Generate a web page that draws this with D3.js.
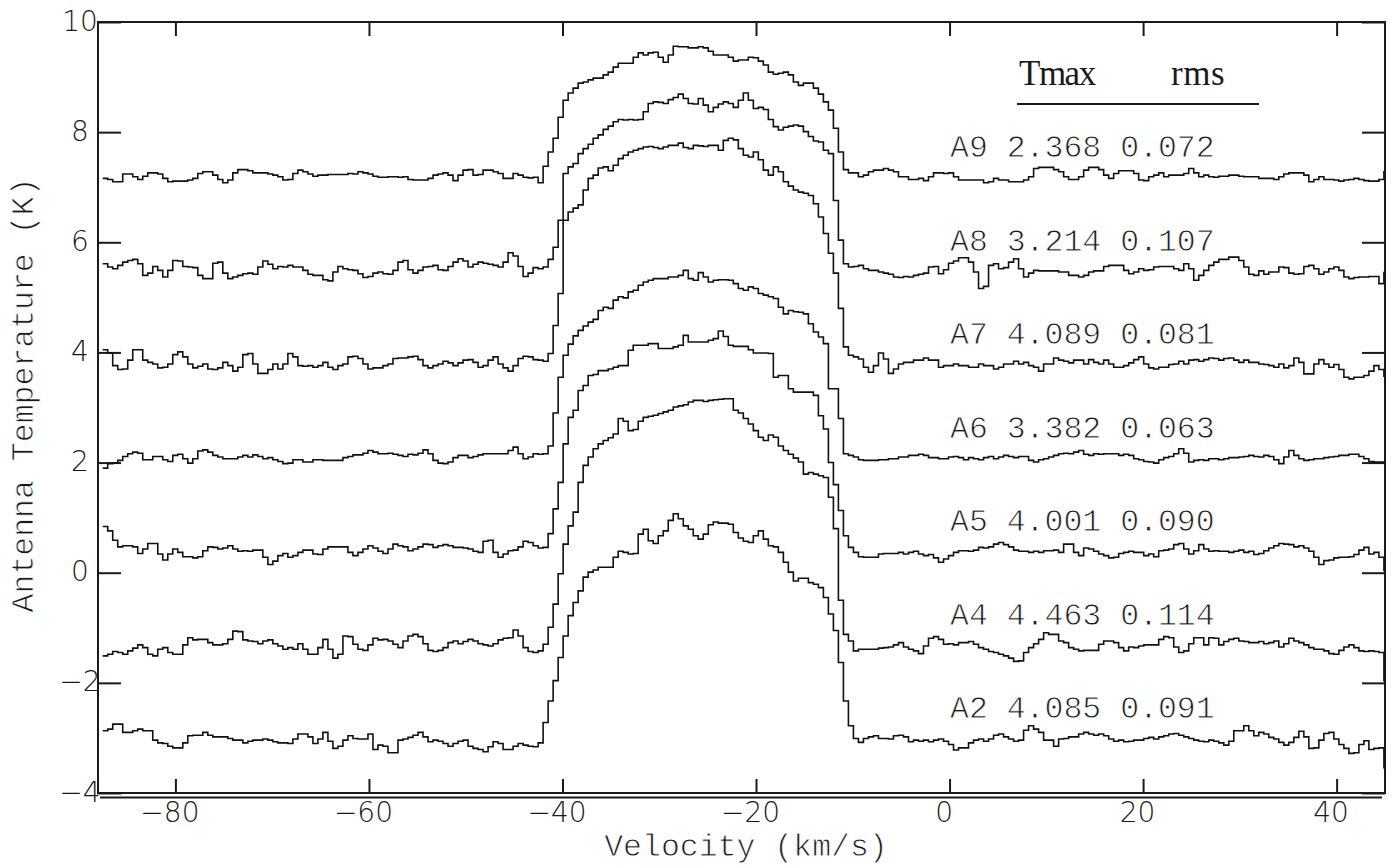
<!DOCTYPE html>
<html><head><meta charset="utf-8">
<script src="https://cdn.jsdelivr.net/npm/d3@7"></script>
<style>
html,body{margin:0;padding:0;background:#fff;}
svg{display:block;}
</style></head>
<body>
<svg id="chart" width="1396" height="867"></svg>
<script>
// ---------------- DATA ----------------
const categories = ["A9","A8","A7","A6","A5","A4","A2"];
const tmaxLabels = ["2.368","3.214","4.089","3.382","4.001","4.463","4.085"];
const rmsLabels  = ["0.072","0.107","0.081","0.063","0.090","0.114","0.091"];
const xTicks = [-80,-60,-40,-20,0,20,40];
const yTicks = [-4,-2,0,2,4,6,8,10];
// channel grid: left edge of first channel and channel width (km/s)
const V0 = -87.514, DV = 0.5172;

// antenna temperature per channel, as plotted (each spectrum shifted vertically)
const A9 = [
7.16,7.14,7.10,7.10,7.24,7.24,7.19,7.14,7.20,7.26,
7.26,7.24,7.16,7.10,7.11,7.11,7.11,7.13,7.16,7.25,
7.28,7.28,7.22,7.14,7.08,7.13,7.26,7.32,7.32,7.30,
7.26,7.26,7.26,7.24,7.22,7.19,7.13,7.14,7.25,7.31,
7.28,7.24,7.20,7.22,7.22,7.23,7.23,7.23,7.23,7.25,
7.24,7.28,7.26,7.24,7.20,7.18,7.18,7.19,7.19,7.18,
7.19,7.14,7.13,7.13,7.13,7.16,7.22,7.24,7.26,7.22,
7.12,7.22,7.31,7.32,7.22,7.23,7.31,7.31,7.28,7.25,
7.16,7.16,7.25,7.22,7.18,7.17,7.18,7.08,
7.38,7.64,7.89,8.27,8.58,8.71,8.80,8.89,8.91,8.95,
8.98,8.98,9.04,9.09,9.18,9.25,9.25,9.25,9.36,9.44,
9.40,9.44,9.45,9.36,9.27,9.40,9.56,9.55,9.55,9.53,
9.53,9.55,9.53,9.47,9.40,9.40,9.40,9.36,9.29,9.31,
9.31,9.36,9.35,9.29,9.22,9.09,9.05,9.07,9.09,9.04,
8.91,8.85,8.89,8.89,8.80,8.69,8.55,8.40,8.07,7.64,
7.32,7.26,7.26,7.19,7.22,7.28,7.31,7.31,7.34,7.31,
7.28,7.19,7.19,7.14,7.14,7.16,7.12,7.19,7.26,7.26,
7.25,7.26,7.19,7.13,7.13,7.13,7.13,7.13,7.08,7.10,
7.16,7.13,7.13,7.10,7.10,7.10,7.13,7.19,7.34,7.36,
7.36,7.36,7.32,7.28,7.19,7.14,7.14,7.19,7.31,7.36,
7.36,7.32,7.22,7.16,7.25,7.30,7.30,7.30,7.25,7.13,
7.12,7.19,7.22,7.26,7.19,7.22,7.22,7.22,7.25,7.34,
7.26,7.19,7.22,7.19,7.18,7.20,7.20,7.22,7.22,7.20,
7.19,7.19,7.19,7.16,7.16,7.16,7.14,7.19,7.24,7.26,
7.26,7.26,7.22,7.10,7.14,7.19,7.14,7.14,7.13,7.11,
7.13,7.14,7.16,7.14,7.12,7.11,7.11,7.14,
7.28];

const A8 = [
5.61,5.55,5.52,5.58,5.64,5.67,5.69,5.61,5.40,5.44,
5.56,5.49,5.37,5.49,5.67,5.66,5.56,5.55,5.54,5.40,
5.34,5.34,5.62,5.64,5.44,5.34,5.37,5.40,5.43,5.44,
5.42,5.55,5.66,5.60,5.52,5.56,5.55,5.58,5.55,5.55,
5.49,5.42,5.40,5.40,5.32,5.30,5.46,5.56,5.52,5.50,
5.49,5.43,5.36,5.38,5.44,5.46,5.43,5.42,5.49,5.64,
5.67,5.50,5.44,5.49,5.55,5.56,5.58,5.50,5.49,5.56,
5.64,5.70,5.66,5.55,5.60,5.64,5.62,5.60,5.58,5.55,
5.64,5.81,5.75,5.56,5.38,5.44,5.54,5.52,
5.55,5.69,5.91,6.40,7.25,7.37,7.43,7.61,7.70,7.78,
7.89,7.95,8.05,8.11,8.19,8.23,8.22,8.23,8.22,8.23,
8.37,8.52,8.55,8.54,8.52,8.59,8.63,8.69,8.61,8.52,
8.51,8.61,8.49,8.37,8.45,8.51,8.55,8.52,8.45,8.58,
8.71,8.58,8.43,8.45,8.41,8.23,8.10,8.04,8.09,8.11,
8.13,8.11,8.01,7.92,7.84,7.82,7.67,7.61,6.76,6.04,
5.61,5.55,5.56,5.58,5.52,5.49,5.49,5.46,5.44,5.42,
5.37,5.36,5.38,5.37,5.40,5.42,5.44,5.55,5.56,5.43,
5.50,5.62,5.66,5.72,5.72,5.64,5.46,5.16,5.20,5.58,
5.61,5.52,5.54,5.64,5.70,5.52,5.37,5.44,5.49,5.48,
5.48,5.48,5.48,5.46,5.46,5.40,5.40,5.37,5.40,5.46,
5.48,5.48,5.56,5.58,5.58,5.58,5.49,5.43,5.46,5.52,
5.49,5.50,5.55,5.56,5.56,5.56,5.52,5.49,5.61,5.52,
5.31,5.40,5.49,5.58,5.64,5.69,5.69,5.73,5.73,5.67,
5.55,5.42,5.40,5.48,5.42,5.46,5.46,5.55,5.54,5.44,
5.42,5.43,5.56,5.58,5.52,5.42,5.46,5.52,5.55,5.49,
5.37,5.34,5.36,5.37,5.37,5.38,5.38,5.25,
5.45];

const A7 = [
4.05,3.99,3.76,3.69,3.70,3.86,4.05,4.05,3.86,3.82,
3.79,3.72,3.73,3.79,3.96,4.01,3.92,3.79,3.72,3.75,
3.79,3.70,3.69,3.72,3.82,3.76,3.66,3.73,3.96,3.98,
3.79,3.62,3.62,3.69,3.79,3.70,3.79,3.98,3.92,3.76,
3.75,3.76,3.73,3.76,3.82,3.73,3.69,3.76,3.79,3.92,
3.93,3.89,3.79,3.70,3.72,3.72,3.76,3.79,3.89,3.90,
3.90,3.92,3.93,3.87,3.76,3.72,3.76,3.79,3.84,3.81,
3.76,3.81,3.86,3.87,3.82,3.73,3.76,3.86,3.92,3.79,
3.72,3.66,3.76,3.89,3.93,3.92,3.87,3.86,
3.84,3.98,4.49,5.07,6.40,6.55,6.62,6.68,6.95,7.16,
7.22,7.35,7.37,7.30,7.40,7.52,7.58,7.64,7.67,7.70,
7.73,7.74,7.72,7.70,7.73,7.76,7.76,7.80,7.72,7.70,
7.76,7.75,7.74,7.76,7.76,7.67,7.85,7.89,7.86,7.70,
7.58,7.55,7.64,7.50,7.31,7.22,7.37,7.28,7.10,7.02,
6.95,6.91,6.89,6.85,6.70,6.46,6.16,5.80,5.44,4.80,
4.10,3.95,3.92,3.88,3.73,3.64,3.76,3.99,3.88,3.62,
3.70,3.79,3.82,3.82,3.86,3.86,3.90,3.86,3.86,3.73,
3.76,3.76,3.79,3.76,3.76,3.73,3.73,3.79,3.76,3.76,
3.70,3.73,3.79,3.79,3.84,3.79,3.82,3.76,3.73,3.66,
3.79,3.79,3.90,3.86,3.84,3.81,3.86,3.86,3.79,3.87,
3.82,3.79,3.86,3.79,3.73,3.73,3.76,3.81,3.87,3.92,
3.79,3.72,3.70,3.73,3.73,3.78,3.79,3.84,3.79,3.86,
3.87,3.84,3.87,3.90,3.89,3.86,3.89,3.90,3.86,3.82,
3.86,3.82,3.82,3.79,3.78,3.76,3.73,3.79,3.72,3.76,
3.90,3.82,3.61,3.61,3.79,3.87,3.79,3.73,3.78,3.69,
3.55,3.52,3.55,3.55,3.58,3.66,3.76,3.69,
3.57];

const A6 = [
1.90,1.98,1.99,2.04,2.11,2.16,2.19,2.17,2.05,2.05,
2.11,2.11,2.05,2.02,2.13,2.15,2.07,1.99,2.07,2.21,
2.23,2.19,2.13,2.10,2.07,2.07,2.07,2.10,2.13,2.10,
2.14,2.11,2.07,2.09,2.05,2.02,1.98,1.99,2.05,2.05,
2.01,2.01,2.05,2.05,2.04,2.04,2.04,2.04,2.09,2.11,
2.14,2.14,2.17,2.22,2.19,2.16,2.16,2.17,2.15,2.13,
2.11,2.15,2.14,2.17,2.23,2.16,2.04,1.99,1.98,2.01,
2.09,2.13,2.13,2.09,2.11,2.14,2.16,2.16,2.16,2.16,
2.16,2.22,2.28,2.16,2.07,2.10,2.16,2.15,
2.16,2.30,2.90,3.55,3.95,4.15,4.30,4.40,4.48,4.55,
4.60,4.76,4.82,4.80,4.95,5.01,4.99,5.10,5.13,5.22,
5.28,5.31,5.34,5.34,5.34,5.37,5.37,5.40,5.49,5.34,
5.31,5.45,5.37,5.28,5.31,5.32,5.32,5.31,5.25,5.16,
5.13,5.19,5.16,5.07,5.04,5.01,4.98,4.82,4.70,4.76,
4.74,4.73,4.70,4.52,4.37,4.28,4.16,3.34,3.34,2.80,
2.16,2.13,2.10,2.05,2.04,2.04,2.04,2.05,2.05,2.07,
2.07,2.10,2.10,2.13,2.13,2.15,2.13,2.09,2.09,2.07,
2.07,2.10,2.11,2.09,2.05,2.09,2.07,2.05,2.09,2.11,
2.07,2.10,2.13,2.11,2.09,2.11,2.11,2.04,2.01,2.05,
2.07,2.10,2.13,2.16,2.17,2.16,2.19,2.22,2.15,2.13,
2.16,2.15,2.16,2.16,2.16,2.13,2.15,2.13,2.07,2.05,
2.02,2.01,1.99,2.05,2.09,2.11,2.16,2.25,2.17,2.01,
2.04,2.05,2.04,2.07,2.07,2.05,2.07,2.09,2.09,2.10,
2.11,2.13,2.11,2.10,2.13,2.11,2.05,1.98,2.10,2.22,
2.13,2.07,2.04,2.05,2.07,2.07,2.09,2.10,2.11,2.13,
2.13,2.15,2.15,2.11,2.07,2.02,2.01,2.01,
2.01];

const A5 = [
0.84,0.76,0.59,0.47,0.49,0.49,0.47,0.35,0.43,0.53,
0.53,0.34,0.23,0.34,0.43,0.37,0.29,0.29,0.27,0.29,
0.40,0.47,0.46,0.43,0.45,0.49,0.43,0.39,0.40,0.39,
0.41,0.41,0.28,0.15,0.21,0.31,0.35,0.28,0.31,0.37,
0.41,0.41,0.34,0.33,0.43,0.47,0.47,0.47,0.47,0.37,
0.31,0.37,0.43,0.49,0.45,0.39,0.35,0.43,0.52,0.49,
0.47,0.40,0.43,0.47,0.52,0.51,0.46,0.49,0.51,0.49,
0.46,0.46,0.45,0.43,0.39,0.37,0.57,0.59,0.37,0.28,
0.34,0.40,0.41,0.47,0.57,0.55,0.49,0.45,
0.46,0.71,1.16,1.64,2.34,2.82,2.95,3.31,3.40,3.58,
3.60,3.67,3.67,3.70,3.73,3.76,3.76,4.04,4.13,4.13,
4.13,4.16,4.16,4.07,4.07,4.07,4.10,4.13,4.31,4.19,
4.19,4.19,4.19,4.22,4.25,4.39,4.29,4.13,4.11,4.11,
4.11,4.05,3.99,3.99,3.99,3.98,3.55,3.58,3.58,3.34,
3.28,3.28,3.28,3.28,3.22,2.85,2.61,2.00,1.60,1.13,
0.67,0.46,0.37,0.29,0.28,0.28,0.28,0.34,0.35,0.35,
0.35,0.37,0.34,0.37,0.39,0.34,0.31,0.33,0.27,0.19,
0.25,0.31,0.37,0.40,0.40,0.39,0.41,0.46,0.45,0.47,
0.52,0.55,0.51,0.47,0.41,0.39,0.39,0.37,0.39,0.37,
0.40,0.40,0.41,0.37,0.52,0.52,0.37,0.31,0.45,0.43,
0.39,0.34,0.31,0.27,0.28,0.35,0.37,0.39,0.37,0.37,
0.31,0.34,0.29,0.40,0.41,0.43,0.51,0.53,0.43,0.34,
0.40,0.51,0.43,0.39,0.40,0.39,0.39,0.37,0.39,0.41,
0.37,0.39,0.33,0.35,0.40,0.45,0.49,0.53,0.52,0.51,
0.47,0.49,0.45,0.39,0.28,0.15,0.22,0.23,0.27,0.28,
0.28,0.29,0.33,0.41,0.46,0.34,0.37,0.28,
0.04];

const A4 = [
-1.51,-1.48,-1.43,-1.45,-1.48,-1.42,-1.37,-1.31,-1.36,-1.48,
-1.51,-1.39,-1.36,-1.45,-1.48,-1.48,-1.31,-1.18,-1.22,-1.21,
-1.21,-1.27,-1.31,-1.31,-1.29,-1.21,-1.06,-1.07,-1.22,-1.24,
-1.25,-1.29,-1.24,-1.22,-1.29,-1.33,-1.39,-1.36,-1.39,-1.29,
-1.39,-1.48,-1.48,-1.36,-1.21,-1.39,-1.55,-1.48,-1.15,-1.16,
-1.30,-1.39,-1.41,-1.31,-1.19,-1.22,-1.21,-1.24,-1.30,-1.36,
-1.24,-1.15,-1.12,-1.16,-1.29,-1.41,-1.43,-1.41,-1.36,-1.27,
-1.24,-1.29,-1.25,-1.21,-1.24,-1.29,-1.31,-1.33,-1.29,-1.22,
-1.19,-1.18,-1.04,-1.15,-1.36,-1.43,-1.45,-1.42,
-1.30,-0.99,-0.57,-0.02,0.52,0.85,1.10,1.64,1.95,2.10,
2.25,2.34,2.40,2.45,2.52,2.80,2.75,2.58,2.60,2.75,
2.82,2.84,2.86,2.89,2.92,2.95,3.01,3.03,3.05,3.10,
3.13,3.13,3.11,3.13,3.14,3.15,3.16,3.16,2.95,2.90,
2.80,2.70,2.58,2.46,2.40,2.50,2.46,2.30,2.22,2.15,
2.08,2.01,1.79,1.82,1.79,1.76,1.73,1.37,0.80,-0.50,
-1.12,-1.24,-1.42,-1.39,-1.39,-1.39,-1.39,-1.37,-1.36,-1.35,
-1.31,-1.27,-1.35,-1.39,-1.42,-1.47,-1.33,-1.19,-1.16,-1.21,
-1.30,-1.29,-1.31,-1.27,-1.27,-1.25,-1.30,-1.36,-1.39,-1.43,
-1.45,-1.48,-1.51,-1.55,-1.61,-1.60,-1.45,-1.36,-1.29,-1.21,
-1.09,-1.12,-1.12,-1.24,-1.27,-1.36,-1.39,-1.42,-1.41,-1.41,
-1.41,-1.30,-1.24,-1.24,-1.27,-1.36,-1.42,-1.35,-1.36,-1.33,
-1.31,-1.31,-1.31,-1.21,-1.16,-1.18,-1.35,-1.45,-1.42,-1.29,
-1.18,-1.18,-1.31,-1.18,-1.19,-1.31,-1.25,-1.21,-1.19,-1.24,
-1.25,-1.27,-1.27,-1.25,-1.29,-1.27,-1.24,-1.35,-1.29,-1.19,
-1.24,-1.27,-1.31,-1.36,-1.39,-1.39,-1.42,-1.47,-1.48,-1.41,
-1.35,-1.31,-1.36,-1.42,-1.43,-1.42,-1.43,-1.45,
-1.96];

const A2 = [
-2.87,-2.84,-2.75,-2.75,-2.90,-2.90,-2.87,-2.84,-2.87,-2.87,
-3.04,-3.09,-3.10,-3.15,-3.18,-3.18,-3.09,-2.96,-2.95,-2.95,
-2.90,-2.95,-2.98,-2.98,-2.98,-3.01,-3.04,-3.04,-3.09,-3.06,
-3.04,-3.04,-3.02,-3.04,-3.07,-3.09,-3.09,-3.10,-3.02,-2.93,
-2.93,-2.98,-3.10,-3.02,-2.90,-3.06,-3.19,-3.15,-3.04,-2.96,
-3.01,-3.02,-3.02,-2.93,-3.21,-3.13,-3.15,-3.27,-3.27,-3.04,
-3.02,-2.99,-2.95,-2.90,-2.98,-3.07,-3.04,-3.06,-3.10,-3.15,
-3.10,-3.06,-3.04,-3.15,-3.19,-3.21,-3.25,-3.16,-3.07,-3.10,
-3.21,-3.21,-3.15,-3.10,-3.13,-3.15,-3.16,-3.09,
-2.72,-2.33,-1.96,-1.54,-1.15,-0.78,-0.54,-0.33,-0.08,0.01,
0.05,0.10,0.10,0.10,0.28,0.39,0.37,0.34,0.35,0.70,
0.79,0.58,0.53,0.67,0.76,0.95,1.07,0.98,0.85,0.79,
0.67,0.61,0.70,0.87,0.92,0.90,0.90,0.88,0.73,0.63,
0.57,0.55,0.67,0.76,0.61,0.49,0.47,0.37,0.19,0.01,
-0.15,-0.10,-0.10,-0.18,-0.21,-0.27,-0.45,-0.75,-1.05,-1.63,
-2.33,-2.78,-3.01,-3.08,-3.01,-2.98,-2.96,-3.01,-3.01,-3.02,
-2.96,-2.95,-2.98,-3.07,-3.04,-3.06,-3.04,-3.07,-3.04,-3.02,
-3.06,-3.12,-3.22,-3.18,-3.18,-3.09,-3.04,-3.02,-3.06,-3.02,
-2.95,-2.93,-2.98,-3.02,-3.06,-3.04,-2.86,-2.78,-2.84,-2.90,
-3.04,-3.04,-3.15,-3.02,-3.01,-2.98,-2.98,-2.93,-2.90,-2.93,
-2.95,-2.93,-2.96,-3.02,-3.06,-3.04,-3.07,-3.06,-3.04,-3.04,
-3.01,-2.99,-3.02,-2.98,-2.96,-2.93,-2.92,-2.95,-2.98,-3.01,
-3.04,-3.06,-3.07,-3.04,-3.06,-3.09,-3.13,-3.06,-2.87,-2.87,
-2.78,-2.87,
-2.96,-2.90,-2.93,-2.99,-3.02,-3.08,-3.13,-3.08,-2.99,-2.88,
-2.98,-3.19,-3.18,-3.04,-2.92,-2.90,-3.02,-3.12,-3.19,-3.28,
-3.27,-3.12,-3.05,-3.21,-3.19,-3.18,
-3.54];

const series = [A9, A8, A7, A6, A5, A4, A2];

// ---------------- LAYOUT ----------------
const W = 1396, H = 867;
const m = {left: 98, right: 1385, top: 22, bottom: 793};
const INK = "#1a1a1a";
const x = d3.scaleLinear().domain([-88, 45]).range([m.left, m.right]);
const y = d3.scaleLinear().domain([-4, 10]).range([m.bottom, m.top]);

const svg = d3.select("#chart");
svg.append("rect").attr("width", W).attr("height", H).attr("fill", "#fff");

const tickFont = g => g.selectAll("text")
  .attr("font-family", "'DejaVu Sans', sans-serif")
  .attr("font-weight", 200)
  .attr("font-size", 28)
  .attr("fill", INK);
const tickLine = g => g.selectAll(".tick line").attr("stroke", INK).attr("stroke-width", 2);

// bottom axis (labelled)
const gB = svg.append("g").attr("transform", `translate(0,${m.bottom})`)
  .call(d3.axisBottom(x).tickValues(xTicks).tickSize(-14).tickPadding(9));
gB.select(".domain").remove(); gB.call(tickLine).call(tickFont);
gB.selectAll("text").attr("dx", -6);
// top axis (ticks only)
const gT = svg.append("g").attr("transform", `translate(0,${m.top})`)
  .call(d3.axisTop(x).tickValues(xTicks).tickSize(-14).tickFormat(""));
gT.select(".domain").remove(); gT.call(tickLine);
// left axis (labelled, labels centred in the margin)
const gL = svg.append("g").attr("transform", `translate(${m.left},0)`)
  .call(d3.axisLeft(y).tickValues(yTicks).tickSize(-23));
gL.select(".domain").remove(); gL.call(tickLine).call(tickFont);
gL.selectAll("text").attr("x", -18).attr("text-anchor", "middle").attr("dy", "0.29em");
// right axis (ticks only)
const gR = svg.append("g").attr("transform", `translate(${m.right},0)`)
  .call(d3.axisRight(y).tickValues(yTicks).tickSize(-23).tickFormat(""));
gR.select(".domain").remove(); gR.call(tickLine);

// frame
svg.append("rect")
  .attr("x", m.left).attr("y", m.top)
  .attr("width", m.right - m.left).attr("height", m.bottom - m.top)
  .attr("fill", "none").attr("stroke", INK).attr("stroke-width", 2);
// second (axis) line just below the frame
svg.append("line")
  .attr("x1", m.left + 2).attr("x2", m.right - 3)
  .attr("y1", m.bottom + 4.5).attr("y2", m.bottom + 4.5)
  .attr("stroke", INK).attr("stroke-width", 2);

// spectra
svg.append("clipPath").attr("id", "plotclip").append("rect")
  .attr("x", m.left).attr("y", m.top)
  .attr("width", m.right - m.left).attr("height", m.bottom - m.top);

const line = d3.line()
  .x(d => x(d[0])).y(d => y(d[1]))
  .curve(d3.curveStepAfter);

const gS = svg.append("g").attr("clip-path", "url(#plotclip)");
series.forEach(vals => {
  const pts = vals.map((v, i) => [V0 + i * DV, v]);
  pts.push([V0 + vals.length * DV, vals[vals.length - 1]]);
  gS.append("path").attr("d", line(pts))
    .attr("fill", "none").attr("stroke", "#111")
    .attr("stroke-width", 1.6).attr("stroke-linejoin", "miter");
});

// thin-stroke look for the monospaced labels
const thin = sel => sel.attr("stroke", "#fff").attr("stroke-width", 0.8);

// annotation table
const monoFont = "'Liberation Mono', 'DejaVu Sans Mono', monospace";
svg.append("text").attr("x", 1019).attr("y", 85)
  .attr("font-family", "'Liberation Serif', serif").attr("font-size", 35)
  .attr("letter-spacing", -1.5).attr("fill", INK).text("Tmax");
svg.append("text").attr("x", 1171).attr("y", 85)
  .attr("font-family", "'Liberation Serif', serif").attr("font-size", 35)
  .attr("letter-spacing", 0.5).attr("fill", INK).text("rms");
svg.append("line").attr("x1", 1017).attr("x2", 1259).attr("y1", 104).attr("y2", 104)
  .attr("stroke", INK).attr("stroke-width", 2);

categories.forEach((c, i) => {
  svg.append("text")
    .attr("x", 950).attr("y", 157 + i * 93.5)
    .attr("font-family", monoFont).attr("font-size", 31.5)
    .attr("fill", INK)
    .text(`${c} ${tmaxLabels[i]} ${rmsLabels[i]}`)
    .call(thin);
});

// axis titles
svg.append("text").attr("x", 746).attr("y", 856)
  .attr("text-anchor", "middle").attr("font-family", monoFont)
  .attr("font-size", 31.5).attr("fill", INK).text("Velocity (km/s)")
  .call(thin);
svg.append("text")
  .attr("transform", "translate(33,395) rotate(-90)")
  .attr("text-anchor", "middle").attr("font-family", monoFont)
  .attr("font-size", 31.5).attr("fill", INK).text("Antenna Temperature (K)")
  .call(thin);
</script>
</body></html>
